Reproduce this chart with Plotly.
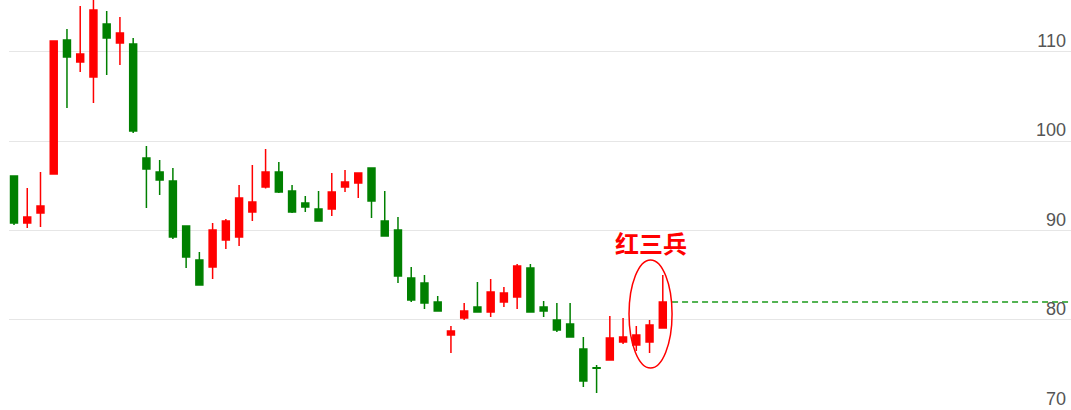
import plotly.graph_objects as go

# daily K-line, red = up, green = down
days = list(range(50))
opens = [96.10, 90.84, 91.96, 96.32, 111.31, 108.85, 107.17, 113.10, 110.97, 110.86,
         98.11, 96.54, 95.54, 90.50, 86.70, 85.92, 88.94, 89.27, 92.07, 94.87,
         96.54, 94.42, 93.08, 92.40, 92.40, 94.87, 95.31, 96.99, 91.06, 90.06,
         84.69, 84.13, 82.00, 78.31, 80.21, 81.44, 80.88, 82.00, 82.56, 85.81,
         81.44, 79.99, 79.54, 76.74, 74.65, 75.51, 77.53, 77.19, 77.53, 79.09]
closes = [90.84, 91.51, 92.74, 111.20, 109.41, 109.74, 114.66, 111.53, 112.09, 101.13,
          96.88, 95.65, 89.27, 87.04, 83.90, 90.06, 91.06, 93.64, 93.19, 96.54,
          94.31, 92.07, 92.63, 91.06, 94.31, 95.43, 96.43, 93.30, 89.38, 84.91,
          82.23, 81.89, 81.00, 78.76, 81.00, 80.88, 83.12, 83.01, 86.03, 80.88,
          81.00, 78.87, 78.09, 73.17, 74.60, 77.98, 78.09, 78.31, 79.43, 82.00]
highs = [96.10, 94.75, 96.54, 111.20, 112.54, 115.11, 116.50, 114.55, 113.88, 111.53,
         99.45, 97.89, 96.99, 90.50, 87.59, 90.84, 91.29, 95.09, 97.33, 99.12,
         97.66, 95.09, 93.86, 94.42, 96.43, 96.77, 96.43, 96.99, 94.42, 91.51,
         85.92, 85.02, 82.67, 79.32, 81.89, 84.24, 84.57, 83.68, 86.25, 86.25,
         82.11, 81.89, 81.89, 78.09, 74.96, 80.44, 80.21, 79.32, 79.99, 85.02]
lows = [90.62, 90.28, 90.39, 96.32, 103.70, 107.73, 104.26, 107.39, 108.51, 100.91,
        92.52, 93.97, 89.05, 85.81, 83.90, 84.57, 87.93, 88.27, 91.06, 94.70,
        94.19, 91.96, 92.07, 91.06, 91.62, 94.31, 93.64, 91.40, 89.38, 84.13,
        82.00, 81.22, 81.00, 76.30, 79.99, 80.88, 80.32, 81.44, 81.22, 80.88,
        80.32, 78.65, 78.09, 72.49, 71.82, 75.51, 77.30, 76.52, 76.30, 79.09]

y_ticks = [70, 80, 90, 100, 110]
x_end = 79.83

fig = go.Figure()

fig.add_trace(go.Candlestick(
    x=days, open=opens, high=highs, low=lows, close=closes,
    increasing=dict(line=dict(color='#ff0000', width=1.5), fillcolor='#ff0000'),
    decreasing=dict(line=dict(color='#008000', width=1.5), fillcolor='#008000'),
    whiskerwidth=0, hoverinfo='skip', showlegend=False,
))

# dashed level from the last close
fig.add_trace(go.Scatter(
    x=[days[-1] + 0.7, x_end], y=[closes[-1], closes[-1]],
    mode='lines', line=dict(color='#1a9a1a', width=1.5, dash='6px,4px'),
    hoverinfo='skip', showlegend=False,
))

# ellipse round the three red candles
fig.add_shape(type='circle', xref='x', yref='y',
              x0=46.45, x1=49.7, y0=74.62, y1=86.7,
              line=dict(color='#ff0000', width=1.5))

fig.add_annotation(x=48.1, y=88.7, text='<b>红三兵</b>', showarrow=False,
                   font=dict(family='Noto Sans CJK SC', size=24, color='#ff0000'))

fig.update_layout(
    width=1071, height=410,
    margin=dict(l=9, r=0, t=0, b=0),
    paper_bgcolor='white', plot_bgcolor='white',
    boxgap=0.25,
    hovermode=False,
    xaxis=dict(range=[-0.378, x_end], visible=False, rangeslider=dict(visible=False)),
    yaxis=dict(
        range=[69.92, 115.78], side='right', tickvals=y_ticks,
        ticklabelposition='inside', ticklabelshift=-11, ticklabelstandoff=2,
        showgrid=True, gridcolor='#e6e6e6', gridwidth=1, zeroline=False,
        showline=False, ticks='',
        tickfont=dict(family='Liberation Sans', size=18, color='#555555'),
    ),
)

fig.write_html("out.html", config={'displayModeBar': False},
               post_script="document.body.style.margin='0';")
